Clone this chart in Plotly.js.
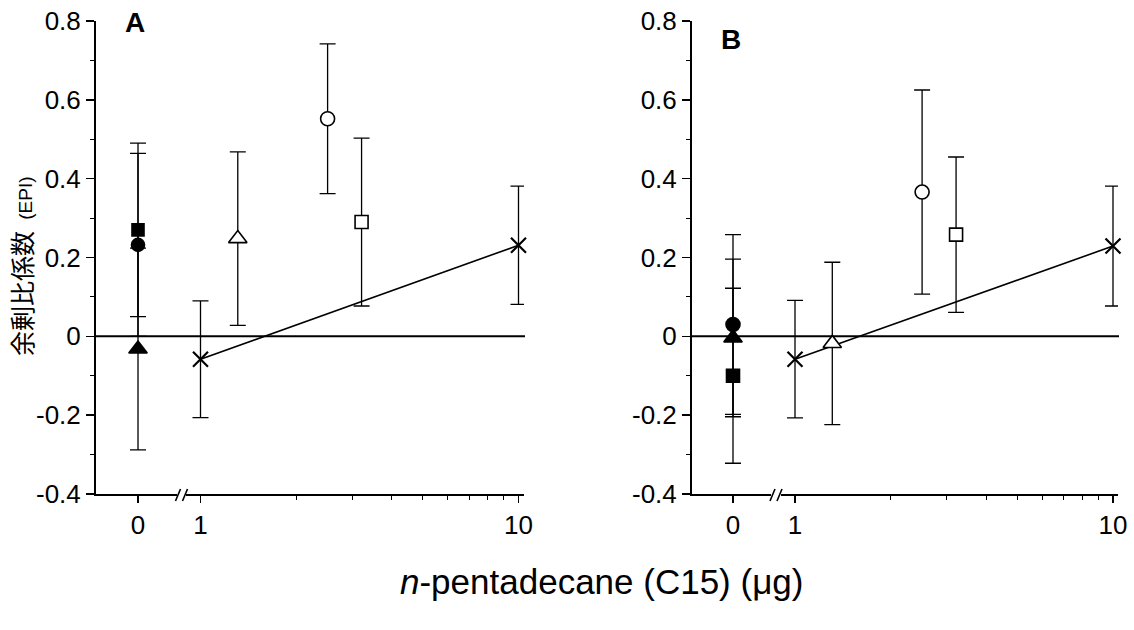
<!DOCTYPE html>
<html>
<head>
<meta charset="utf-8">
<script src="https://cdn.plot.ly/plotly-3.0.1.min.js"></script>
<style>html,body{margin:0;padding:0;background:#fff;}#chart{width:1134px;height:630px;}</style>
</head>
<body>
<div id="chart"></div>
<script>
// ---------- data ----------
const controlX = [0];                 // control group (no C15)
const doseXfit = [1, 10];             // C15 amounts for X markers (regression)
const doseXopen = [1.31, 2.51, 3.21]; // open triangle, open circle, open square

// Panel A
const A_ctrlSquare = [0.270],  A_ctrlSquareErr = [0.220];
const A_ctrlCircle = [0.232],  A_ctrlCircleErr = [0.232];
const A_ctrlTri    = [-0.032], A_ctrlTriErr    = [0.256];
const A_fitY = [-0.058, 0.231], A_fitErr = [0.148, 0.150];
const A_openTri = [0.248], A_openTriErr = [0.220];
const A_openCir = [0.552], A_openCirErr = [0.190];
const A_openSq  = [0.290], A_openSqErr  = [0.213];

// Panel B
const B_ctrlSquare = [-0.100], B_ctrlSquareErr = [0.222];
const B_ctrlCircle = [0.030],  B_ctrlCircleErr = [0.228];
const B_ctrlTri    = [-0.004], B_ctrlTriErr    = [0.200];
const B_fitY = [-0.058, 0.229], B_fitErr = [0.149, 0.152];
const B_openTri = [-0.018], B_openTriErr = [0.206];
const B_openCir = [0.366],  B_openCirErr = [0.259];
const B_openSq  = [0.258],  B_openSqErr  = [0.197];

const yTickVals = [-0.4, -0.2, 0, 0.2, 0.4, 0.6, 0.8];
const yTickText = ["-0.4", "-0.2", "0", "0.2", "0.4", "0.6", "0.8"];
const xCtrlTickVals = [0], xCtrlTickText = ["0"];
const xLogTickVals = [1, 10], xLogTickText = ["1", "10"];
const xLogMinor = [2, 3, 4, 5, 6, 7, 8, 9];

// ---------- geometry helpers ----------
const W = 1134, H = 630;
const px = v => v / W;
const py = v => 1 - v / H;
const FONT = "Liberation Sans, Arial, sans-serif";

function err(arr) {
  return {type: "data", array: arr, visible: true, color: "#000", thickness: 1.3, width: 8};
}
function pt(xa, ya, x, y, e, symbol, fill, size) {
  return {
    x: x, y: y, xaxis: xa, yaxis: ya, type: "scatter", mode: "markers",
    error_y: err(e),
    marker: {symbol: symbol, size: size, color: fill, line: {color: "#000", width: 1.6}},
    showlegend: false, hoverinfo: "skip", cliponaxis: false
  };
}
function fit(xa, ya, y, e) {
  return {
    x: doseXfit, y: y, xaxis: xa, yaxis: ya, type: "scatter", mode: "lines+markers",
    error_y: err(e),
    line: {color: "#000", width: 1.6},
    marker: {symbol: "x-thin", size: 15, color: "#000", line: {color: "#000", width: 2.2}},
    showlegend: false, hoverinfo: "skip", cliponaxis: false
  };
}

const traces = [
  // Panel A
  pt("x", "y", controlX, A_ctrlTri, A_ctrlTriErr, "triangle-up", "#000", 16),
  pt("x", "y", controlX, A_ctrlSquare, A_ctrlSquareErr, "square", "#000", 12),
  pt("x", "y", controlX, A_ctrlCircle, A_ctrlCircleErr, "circle", "#000", 13),
  fit("x2", "y", A_fitY, A_fitErr),
  pt("x2", "y", [doseXopen[0]], A_openTri, A_openTriErr, "triangle-up", "#fff", 16),
  pt("x2", "y", [doseXopen[1]], A_openCir, A_openCirErr, "circle", "#fff", 14),
  pt("x2", "y", [doseXopen[2]], A_openSq, A_openSqErr, "square", "#fff", 13),
  // Panel B
  pt("x3", "y2", controlX, B_ctrlSquare, B_ctrlSquareErr, "square", "#000", 13),
  pt("x3", "y2", controlX, B_ctrlCircle, B_ctrlCircleErr, "circle", "#000", 14),
  pt("x3", "y2", controlX, B_ctrlTri, B_ctrlTriErr, "triangle-up", "#000", 16),
  fit("x4", "y2", B_fitY, B_fitErr),
  pt("x4", "y2", [doseXopen[0]], B_openTri, B_openTriErr, "triangle-up", "#fff", 16),
  pt("x4", "y2", [doseXopen[1]], B_openCir, B_openCirErr, "circle", "#fff", 14),
  pt("x4", "y2", [doseXopen[2]], B_openSq, B_openSqErr, "square", "#fff", 13)
];

const tickFont = {family: FONT, size: 26, color: "#000"};
function yAxis(anchor) {
  return {
    anchor: anchor, domain: [py(494), py(21)], range: [-0.4, 0.8],
    tickmode: "array", tickvals: yTickVals, ticktext: yTickText,
    showline: true, linewidth: 2, linecolor: "#000",
    ticks: "outside", ticklen: 8, tickwidth: 1.5, tickcolor: "#000",
    minor: {dtick: 0.1, tick0: 0, ticks: "outside", ticklen: 4, tickwidth: 1, tickcolor: "#000"},
    showgrid: false, zeroline: false, tickfont: tickFont, fixedrange: true
  };
}
function xCtrl(domainPx, zeroPx, anchor) {
  const scale = zeroPx - domainPx[0]; // px per unit
  return {
    anchor: anchor, domain: [px(domainPx[0]), px(domainPx[1])],
    range: [-1, (domainPx[1] - zeroPx) / scale],
    tickmode: "array", tickvals: xCtrlTickVals, ticktext: xCtrlTickText,
    showline: true, linewidth: 2, linecolor: "#000",
    ticks: "outside", ticklen: 7, tickwidth: 1.5, tickcolor: "#000",
    showgrid: false, zeroline: false, tickfont: tickFont, fixedrange: true
  };
}
function xLog(domainPx, onePx, decadePx, anchor) {
  return {
    type: "log", anchor: anchor, domain: [px(domainPx[0]), px(domainPx[1])],
    range: [(domainPx[0] - onePx) / decadePx, (domainPx[1] - onePx) / decadePx],
    tickmode: "array", tickvals: xLogTickVals, ticktext: xLogTickText,
    showline: true, linewidth: 2, linecolor: "#000",
    ticks: "outside", ticklen: 7, tickwidth: 1.5, tickcolor: "#000",
    minor: {tickmode: "array", tickvals: xLogMinor, ticks: "outside", ticklen: 4, tickwidth: 1, tickcolor: "#000"},
    showgrid: false, zeroline: false, tickfont: tickFont, fixedrange: true
  };
}

function brk(cx, cy) {
  const s = {type: "line", xref: "paper", yref: "paper", line: {color: "#000", width: 1.6}};
  return [
    Object.assign({}, s, {x0: px(cx - 6), y0: py(cy + 6), x1: px(cx - 1), y1: py(cy - 6)}),
    Object.assign({}, s, {x0: px(cx + 1), y0: py(cy + 6), x1: px(cx + 6), y1: py(cy - 6)})
  ];
}

const layout = {
  width: W, height: H,
  margin: {l: 0, r: 0, t: 0, b: 0, pad: 0},
  paper_bgcolor: "#fff", plot_bgcolor: "rgba(0,0,0,0)",
  showlegend: false,
  xaxis:  xCtrl([96, 177], 138, "y"),
  xaxis2: xLog([186, 524], 200.5, 318, "y"),
  yaxis:  yAxis("x"),
  xaxis3: xCtrl([692, 771], 733, "y2"),
  xaxis4: xLog([781, 1118], 795, 318, "y2"),
  yaxis2: yAxis("x3"),
  shapes: [
    {type: "line", xref: "paper", yref: "y", x0: px(96), x1: px(525), y0: 0, y1: 0, line: {color: "#000", width: 2}, layer: "below"},
    {type: "line", xref: "paper", yref: "y2", x0: px(692), x1: px(1119), y0: 0, y1: 0, line: {color: "#000", width: 2}, layer: "below"}
  ].concat(brk(181.5, 495), brk(776, 495)),
  annotations: [
    {xref: "paper", yref: "paper", x: px(135), y: py(23), text: "<b>A</b>", showarrow: false,
     font: {family: FONT, size: 28, color: "#000"}, xanchor: "center", yanchor: "middle"},
    {xref: "paper", yref: "paper", x: px(731), y: py(39), text: "<b>B</b>", showarrow: false,
     font: {family: FONT, size: 28, color: "#000"}, xanchor: "center", yanchor: "middle"},
    {xref: "paper", yref: "paper", x: px(21), y: py(267), textangle: -90, showarrow: false,
     text: "余剰比係数 \u00a0<span style=\"font-family:Liberation Sans;font-size:19px\">(EPI)</span>",
     font: {family: "Noto Sans CJK JP, sans-serif", size: 25, color: "#000"}, xanchor: "center", yanchor: "middle"},
    {xref: "paper", yref: "paper", x: px(601), y: py(581), showarrow: false,
     text: "<i>n</i>-pentadecane (C15) (μg)",
     font: {family: FONT, size: 35, color: "#000"}, xanchor: "center", yanchor: "middle"}
  ]
};

Plotly.newPlot("chart", traces, layout, {staticPlot: true, displayModeBar: false});
</script>
</body>
</html>
